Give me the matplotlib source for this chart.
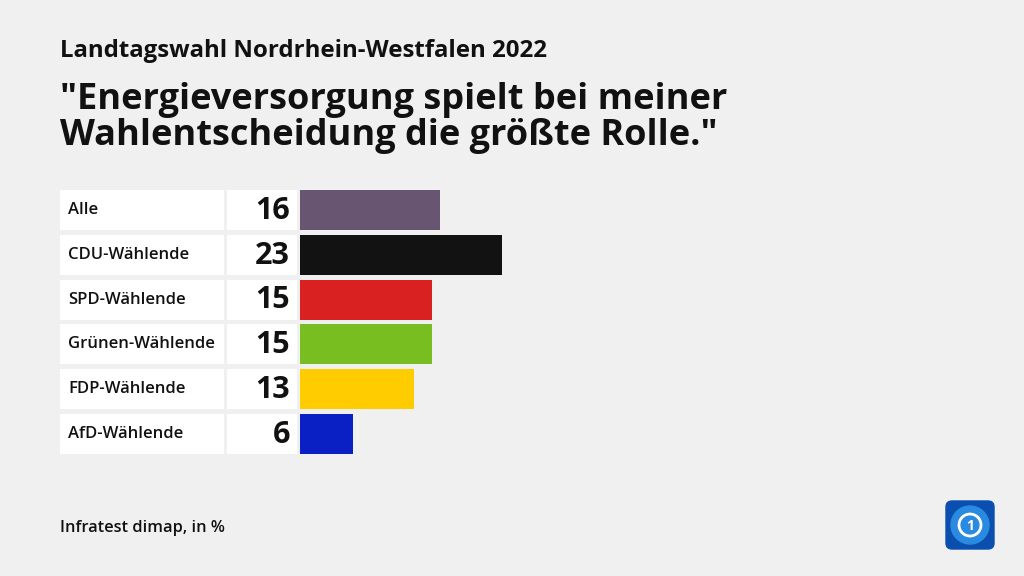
import matplotlib
matplotlib.use("Agg")
import matplotlib.pyplot as plt
from matplotlib.patches import FancyBboxPatch, Circle

# data
groups = ["Alle", "CDU-Wählende", "SPD-Wählende", "Grünen-Wählende", "FDP-Wählende", "AfD-Wählende"]
values = [16, 23, 15, 15, 13, 6]
colors = ["#675571", "#121212", "#d92121", "#78be20", "#ffcc00", "#0a1fc4"]

plt.rcParams['font.family'] = ['Open Sans', 'DejaVu Sans']
bg = "#f0f0f0"

fig = plt.figure(figsize=(10.24, 5.76), dpi=100, facecolor=bg)
W, H = 1024, 576
px_per_unit = 8.77

# bar axes: starts at x=300 px, rows centred at 210 + 44.8*i
top, pitch = 187.6, 44.8
ax_w = 600
ax = fig.add_axes([300 / W, 1 - (top + 6 * pitch) / H, ax_w / W, 6 * pitch / H])
ax.set_facecolor("none")
ax.set_xlim(0, ax_w / px_per_unit)
ax.set_ylim(5.5, -0.5)
ax.axis("off")

ypos = list(range(len(groups)))
ax.barh(ypos, values, height=0.89, color=colors)

# white boxes for labels and values
lab_l, lab_r = (60 - 300) / px_per_unit, (224 - 300) / px_per_unit
val_l, val_r = (227 - 300) / px_per_unit, (297 - 300) / px_per_unit
ax.barh(ypos, lab_r - lab_l, left=lab_l, height=0.89, color="white", clip_on=False)
ax.barh(ypos, val_r - val_l, left=val_l, height=0.89, color="white", clip_on=False)

for i, (g, v) in enumerate(zip(groups, values)):
    ax.text(lab_l + 8 / px_per_unit, i, g, ha="left", va="center",
            fontsize=12, fontweight="semibold", color="#111111", clip_on=False)
    ax.text(val_r - 7 / px_per_unit, i + 0.02, str(v), ha="right", va="center",
            fontsize=22, fontweight="bold", color="#111111", clip_on=False)

# titles
fig.text(60 / W, 1 - 51 / H, "Landtagswahl Nordrhein-Westfalen 2022", ha="left", va="center",
         fontsize=17.3, fontweight="bold", color="#111111")
fig.text(60 / W, 1 - 118 / H, "\"Energieversorgung spielt bei meiner\nWahlentscheidung die größte Rolle.\"",
         ha="left", va="center", fontsize=26, fontweight="bold", color="#111111", linespacing=1.0)
fig.text(60 / W, 1 - 528 / H, "Infratest dimap, in %", ha="left", va="center",
         fontsize=11.8, fontweight="semibold", color="#111111")

# logo
lax = fig.add_axes([945 / W, 1 - 550 / H, 50 / W, 50 / H])
lax.set_xlim(0, 1)
lax.set_ylim(0, 1)
lax.axis("off")
lax.add_patch(FancyBboxPatch((0.02, 0.02), 0.96, 0.96, boxstyle="round,pad=0,rounding_size=0.12",
                             color="#0a4fb0"))
lax.add_patch(Circle((0.5, 0.5), 0.38, color="#2a8ae0"))
lax.add_patch(Circle((0.5, 0.5), 0.22, fill=False, ec="white", lw=2))
lax.text(0.5, 0.48, "1", ha="center", va="center", fontsize=10, fontweight="bold", color="white")

fig.savefig("out.png", dpi=100, facecolor=bg)
